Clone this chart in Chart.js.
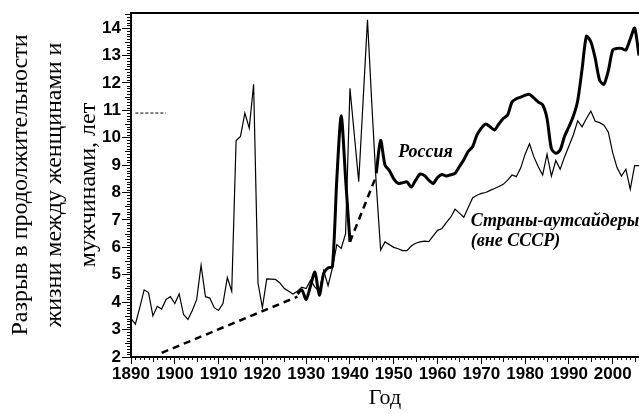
<!DOCTYPE html>
<html lang="ru">
<head>
<meta charset="utf-8">
<title>Разрыв в продолжительности жизни</title>
<script src="https://cdn.jsdelivr.net/npm/chart.js@4/dist/chart.umd.min.js"></script>
<style>
  html, body { margin: 0; padding: 0; background: #fff; }
  #wrap { width: 639px; height: 414px; }
</style>
</head>
<body>
<div id="wrap"><canvas id="grafico" width="639" height="414"></canvas></div>
<script>
// Страны-аутсайдеры (вне СССР): по одному значению на год, начиная с 1890
const outsiderStartYear = 1890;
const outsiderGap = [
  3.4, 3.2, 3.8, 4.45, 4.35, 3.5, 3.85, 3.75, 4.1, 4.2,      // 1890-1899
  3.95, 4.3, 3.55, 3.37, 3.7, 4.1, 5.35, 4.2, 4.15, 3.8,     // 1900-1909
  3.7, 3.95, 4.9, 4.4, 9.9, 10.05, 10.9, 10.35, 11.95, 4.7,  // 1910-1919
  3.8, 4.85, 4.84, 4.83, 4.7, 4.5, 4.4, 4.3, 4.4, 4.55,      // 1920-1929
  4.5, 4.8, 4.55, 4.4, 5.15, 4.6, 5.25, 6.1, 5.96, 6.5,      // 1930-1939
  11.8, 10.1, 8.4, 11.35, 14.3, 11.2, 8.3, 5.9, 6.2, 6.1,    // 1940-1949
  6.0, 5.95, 5.88, 5.88, 6.05, 6.15, 6.2, 6.23, 6.21, 6.42,  // 1950-1959
  6.62, 6.69, 6.9, 7.1, 7.39, 7.25, 7.1, 7.45, 7.8, 7.9,     // 1960-1969
  7.97, 8.0, 8.08, 8.15, 8.22, 8.3, 8.45, 8.64, 8.58, 8.9,   // 1970-1979
  9.4, 9.78, 9.3, 8.94, 8.64, 9.4, 8.6, 9.17, 8.85, 9.3,     // 1980-1989
  9.7, 10.1, 10.62, 10.4, 10.7, 10.97, 10.6, 10.55, 10.46, 10.2, // 1990-1999
  9.45, 8.9, 8.6, 8.85, 8.12, 8.98, 8.98                     // 2000-2006
];

// Россия: с 1928 года, 1941-1945 нет данных (null)
const russiaStartYear = 1928;
const russiaGap = [
  4.3, 4.45,                                                  // 1928-1929
  4.1, 4.6, 5.1, 4.25, 5.05, 5.25, 5.3, 8.5, 10.8, 8.5,       // 1930-1939
  6.2, null, null, null, null, null, 8.7, 9.9, 9.0, 8.8,      // 1940-1949
  8.5, 8.33, 8.36, 8.39, 8.2, 8.45, 8.67, 8.62, 8.45, 8.33,   // 1950-1959
  8.55, 8.66, 8.6, 8.65, 8.7, 8.95, 9.2, 9.5, 9.67, 10.1,     // 1960-1969
  10.35, 10.5, 10.4, 10.28, 10.5, 10.7, 10.83, 11.3, 11.42, 11.48, // 1970-1979
  11.55, 11.58, 11.45, 11.3, 11.2, 10.7, 9.6, 9.43, 9.55, 10.05,   // 1980-1989
  10.4, 10.78, 11.35, 12.5, 13.7, 13.5, 12.9, 12.1, 11.95, 12.45,  // 1990-1999
  13.2, 13.26, 13.26, 13.2, 13.6, 14.0, 13.0                  // 2000-2006
];

// пунктирные линии: тренд до 1928 и пропуск военных лет
const trendYears = [1897, 1928];
const trendValues = [2.15, 4.2];
const warYears = [1940, 1946];
const warValues = [6.2, 8.6];

// короткая пунктирная отметка у оси
const markYears = [1891, 1898];
const markValues = [10.9, 10.9];

const xTickYears = [1890, 1900, 1910, 1920, 1930, 1940, 1950, 1960, 1970, 1980, 1990, 2000];
const yTickValues = [2, 3, 4, 5, 6, 7, 8, 9, 10, 11, 12, 13, 14];

const toPoints = (start, values) => values.map((v, i) => ({ x: start + i, y: v }));
const pairPoints = (xs, ys) => xs.map((x, i) => ({ x: x, y: ys[i] }));

// подписи серий на графике (в координатах данных)
const etiquetas = [
  { text: 'Россия', x: 1951, y: 9.45 },
  { text: 'Страны-аутсайдеры', x: 1967.6, y: 6.96 },
  { text: '(вне СССР)', x: 1967.6, y: 6.23 }
];

const tickFont = { family: '"Liberation Sans", Arial, sans-serif', size: 17, weight: 'bold' };
const serif = '"Liberation Serif", "Times New Roman", serif';

// мелкие деления осей
const marcasMenores = {
  id: 'marcasMenores',
  afterDraw(chart) {
    const { ctx, chartArea, scales } = chart;
    ctx.save();
    ctx.strokeStyle = '#000';
    ctx.lineWidth = 1;
    ctx.beginPath();
    for (let i = 20; i <= 145; i++) {
      if (i % 10 === 0) continue;
      const y = Math.round(scales.y.getPixelForValue(i / 10)) + 0.5;
      const len = i % 5 === 0 ? 6 : 4;
      ctx.moveTo(chartArea.left - len, y);
      ctx.lineTo(chartArea.left, y);
    }
    for (let a = 1890; a <= 2006; a++) {
      if (a % 10 === 0) continue;
      const x = Math.round(scales.x.getPixelForValue(a)) + 0.5;
      const len = a % 5 === 0 ? 5 : 3;
      ctx.moveTo(x, chartArea.bottom);
      ctx.lineTo(x, chartArea.bottom + len);
    }
    ctx.stroke();
    ctx.restore();
  }
};

// текстовые подписи серий
const subtitulos = {
  id: 'subtitulos',
  afterDatasetsDraw(chart) {
    const { ctx, scales } = chart;
    ctx.save();
    ctx.fillStyle = '#000';
    ctx.font = 'italic bold 18px ' + serif;
    ctx.textBaseline = 'middle';
    ctx.textAlign = 'left';
    etiquetas.forEach(e => {
      ctx.fillText(e.text, scales.x.getPixelForValue(e.x), scales.y.getPixelForValue(e.y));
    });
    ctx.restore();
  }
};

new Chart(document.getElementById('grafico'), {
  type: 'line',
  data: {
    datasets: [
      {
        label: 'Россия',
        data: toPoints(russiaStartYear, russiaGap),
        borderColor: '#000',
        borderWidth: 3,
        tension: 0.25,
        pointRadius: 0,
        spanGaps: false
      },
      {
        label: 'Страны-аутсайдеры (вне СССР)',
        data: toPoints(outsiderStartYear, outsiderGap),
        borderColor: '#000',
        borderWidth: 1.2,
        tension: 0,
        pointRadius: 0
      },
      {
        label: 'тренд',
        data: pairPoints(trendYears, trendValues),
        borderColor: '#000',
        borderWidth: 2.5,
        borderDash: [7, 5],
        pointRadius: 0
      },
      {
        label: 'военные годы',
        data: pairPoints(warYears, warValues),
        borderColor: '#000',
        borderWidth: 2.5,
        borderDash: [7, 5],
        pointRadius: 0
      },
      {
        label: 'отметка',
        data: pairPoints(markYears, markValues),
        borderColor: '#000',
        borderWidth: 1,
        borderDash: [3, 2],
        pointRadius: 0
      }
    ]
  },
  options: {
    responsive: false,
    animation: false,
    layout: { padding: 0 },
    plugins: {
      legend: { display: false },
      tooltip: { enabled: false }
    },
    scales: {
      x: {
        type: 'linear',
        position: 'bottom',
        min: 1890,
        max: 2006,
        afterBuildTicks: s => { s.ticks = xTickYears.map(v => ({ value: v })); },
        afterFit: s => { s.height = 57; },
        ticks: {
          color: '#000',
          font: tickFont,
          autoSkip: false,
          maxRotation: 0,
          padding: 0,
          callback: v => String(v)
        },
        grid: { drawOnChartArea: false, color: '#000', tickLength: 7, tickWidth: 1 },
        border: { color: '#000', width: 2 },
        title: {
          display: true,
          text: 'Год',
          color: '#000',
          font: { family: serif, size: 22 },
          padding: { top: 0, bottom: 3 }
        }
      },
      x2: {
        type: 'linear',
        position: 'top',
        min: 1890,
        max: 2006,
        afterFit: s => { s.height = 13; },
        ticks: { display: false },
        grid: { display: false, drawTicks: false },
        border: { color: '#000', width: 2 }
      },
      y: {
        type: 'linear',
        min: 2,
        max: 14.55,
        afterBuildTicks: s => { s.ticks = yTickValues.map(v => ({ value: v })); },
        afterFit: s => { s.width = 131; },
        ticks: {
          color: '#000',
          font: tickFont,
          padding: 1,
          callback: v => String(v)
        },
        grid: { drawOnChartArea: false, color: '#000', tickLength: 9, tickWidth: 1 },
        border: { color: '#000', width: 2 },
        title: {
          display: true,
          text: ['Разрыв в продолжительности', 'жизни между женщинами и', 'мужчинами, лет'],
          color: '#000',
          font: { family: serif, size: 24, lineHeight: 1.42 },
          padding: { top: 4, bottom: 0 }
        }
      }
    }
  },
  plugins: [marcasMenores, subtitulos]
});
</script>
</body>
</html>
